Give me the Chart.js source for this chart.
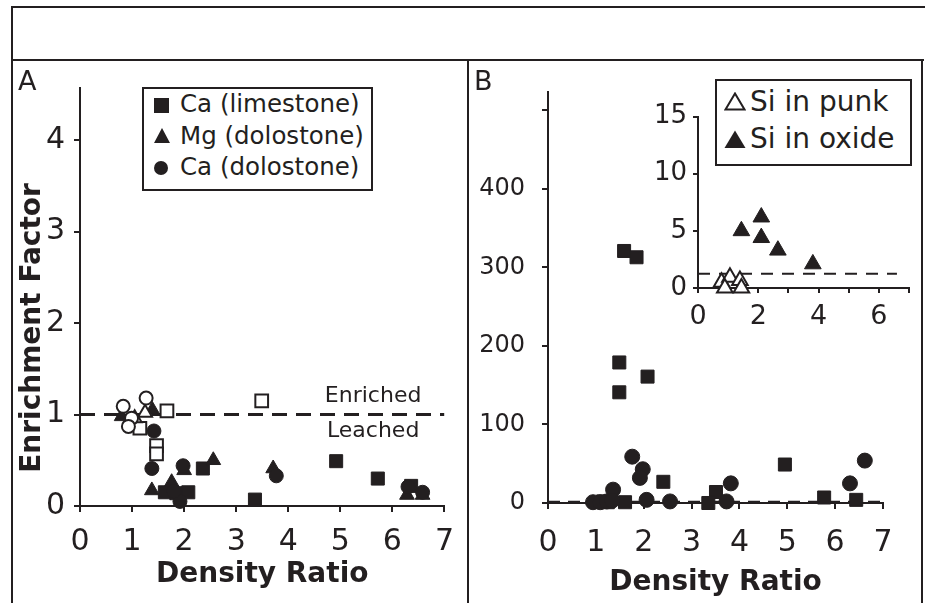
<!DOCTYPE html>
<html>
<head>
<meta charset="utf-8">
<script src="https://cdn.jsdelivr.net/npm/chart.js@4.4.1/dist/chart.umd.min.js"></script>
<style>
  body { margin: 0; background: #fff; }
  #page { position: relative; width: 925px; height: 603px; overflow: hidden; font-family: "DejaVu Sans", sans-serif; color: #231f20; }
  .rule { position: absolute; background: #231f20; }
  canvas { position: absolute; }
  .tag { position: absolute; font-size: 27px; line-height: 27px; }
  .ytitle { position: absolute; left: -169px; top: 311px; width: 400px; height: 34px; line-height: 34px; text-align: center; font-weight: bold; font-size: 28px; transform: rotate(-90deg); white-space: nowrap; }
  .legend { position: absolute; box-sizing: border-box; border: 2px solid #231f20; background: #fff; }
  .legend svg { position: absolute; }
  .legend .item { position: absolute; white-space: nowrap; }
  #legendA .item { font-size: 24.5px; line-height: 30px; }
  #legendB .item { font-size: 28px; line-height: 34px; }
</style>
</head>
<body>
<div id="page">
  <!-- frame -->
  <div class="rule" style="left:11px;top:6px;width:914px;height:2px;"></div>
  <div class="rule" style="left:11px;top:6px;width:2px;height:597px;"></div>
  <div class="rule" style="left:11px;top:59px;width:913px;height:2px;"></div>
  <div class="rule" style="left:467px;top:59px;width:2px;height:544px;"></div>
  <div class="rule" style="left:921px;top:59px;width:2px;height:544px;"></div>

  <canvas id="chartA" width="453" height="542" style="left:13px;top:61px;"></canvas>
  <canvas id="chartB" width="452" height="542" style="left:469px;top:61px;"></canvas>
  <canvas id="chartInset" width="290" height="250" style="left:630px;top:95px;"></canvas>

  <div class="tag" style="left:18px;top:67px;">A</div>
  <div class="tag" style="left:474px;top:67px;">B</div>
  <div class="ytitle">Enrichment Factor</div>

  <div class="legend" id="legendA" style="left:142px;top:87px;width:231px;height:104px;">
    <svg style="left:10px;top:9px;" width="15" height="15"><rect width="15" height="15" fill="#231f20"/></svg>
    <svg style="left:10px;top:39px;" width="16" height="15"><polygon points="0,15 8,0 16,15" fill="#231f20"/></svg>
    <svg style="left:10px;top:72px;" width="14" height="14"><circle cx="7" cy="7" r="7" fill="#231f20"/></svg>
    <div class="item" style="left:36px;top:0px;">Ca (limestone)</div>
    <div class="item" style="left:36px;top:32px;">Mg (dolostone)</div>
    <div class="item" style="left:36px;top:63px;">Ca (dolostone)</div>
  </div>

  <div class="legend" id="legendB" style="left:715px;top:79px;width:197px;height:87px;">
    <svg style="left:7px;top:11px;" width="22" height="19"><polygon points="1.5,17.5 11,1.5 20.5,17.5" fill="#fff" stroke="#231f20" stroke-width="2"/></svg>
    <svg style="left:7px;top:49px;" width="22" height="19"><polygon points="0.5,18 11,0.5 21.5,18" fill="#231f20"/></svg>
    <div class="item" style="left:33px;top:4px;">Si in punk</div>
    <div class="item" style="left:33px;top:41px;">Si in oxide</div>
  </div>
</div>

<script>
const ink = "#231f20";

// ---- panel A : enrichment factor vs density ratio ----
const caLimeX = [1.63, 1.85, 2.08, 2.36, 3.36, 4.92, 5.72, 6.36];
const caLimeY = [0.15, 0.14, 0.15, 0.41, 0.07, 0.49, 0.30, 0.22];
const mgDoloX = [0.80, 1.39, 1.38, 1.76, 2.00, 2.56, 3.71, 6.28, 6.58];
const mgDoloY = [0.98, 1.05, 0.17, 0.26, 0.39, 0.50, 0.41, 0.12, 0.12];
const caDoloX = [1.42, 1.38, 1.98, 1.92, 1.80, 3.77, 6.30, 6.58];
const caDoloY = [0.82, 0.41, 0.44, 0.05, 0.16, 0.33, 0.21, 0.15];
// open symbols (not in the legend)
const openSqX = [1.67, 1.15, 1.47, 1.47, 3.49];
const openSqY = [1.04, 0.85, 0.66, 0.57, 1.15];
const openTriX = [1.05, 1.25];
const openTriY = [0.96, 1.02];
const openCircX = [0.83, 1.27, 0.99, 0.93];
const openCircY = [1.09, 1.18, 0.96, 0.87];
const xTicksA = [0, 1, 2, 3, 4, 5, 6, 7];
const yTicksA = [0, 1, 2, 3, 4];
const enrichLevel = 1;
const zoneText = ["Enriched", "Leached"];

// ---- panel B ----
const bSqX = [1.59, 1.85, 1.49, 1.49, 2.08, 2.41, 4.95, 3.51, 3.35, 5.77, 6.44, 1.61, 1.15, 1.25];
const bSqY = [321, 313, 179, 141, 161, 27, 49, 14, 0, 7, 4, 1, 2, 1];
const bCircX = [1.76, 1.98, 1.92, 1.36, 2.06, 2.55, 3.82, 3.73, 6.62, 6.31, 0.94, 1.09, 1.23, 1.34];
const bCircY = [59, 43, 32, 17, 4, 2, 25, 2, 54, 25, 1, 1, 2, 3];
const xTicksB = [0, 1, 2, 3, 4, 5, 6, 7];
const yTicksB = [0, 100, 200, 300, 400, 500];
const yTickLabelsB = ["0", "100", "200", "300", "400", ""];

// ---- inset (Si) ----
const punkX = [0.78, 1.06, 1.39, 0.89, 1.44];
const punkY = [0.5, 0.95, 0.65, 0, 0];
const oxideX = [2.10, 1.44, 2.10, 2.65, 3.81];
const oxideY = [6.2, 5.0, 4.4, 3.3, 2.1];
const xTicksIn = [0, 1, 2, 3, 4, 5, 6, 7];
const xTickLabelsIn = ["0", "", "2", "", "4", "", "6", ""];
const yTicksIn = [0, 5, 10, 15];
const insetLevel = 1.25;

Chart.defaults.font.family = "'DejaVu Sans', sans-serif";
Chart.defaults.color = ink;

function markers(xs, ys, style, radius, open) {
  return {
    type: "scatter",
    data: xs.map((x, i) => ({ x: x, y: ys[i] })),
    pointStyle: style,
    pointRadius: radius,
    pointHoverRadius: radius,
    backgroundColor: open ? "#ffffff" : ink,
    borderColor: ink,
    borderWidth: open ? 2 : 1,
    clip: false,
  };
}

function refLine(level, from, to, width, dash) {
  return {
    type: "line",
    data: [{ x: from, y: level }, { x: to, y: level }],
    borderColor: ink,
    borderWidth: width,
    borderDash: dash,
    pointRadius: 0,
    fill: false,
  };
}

function tickGrid(len) {
  return { drawOnChartArea: false, drawTicks: true, tickLength: len, color: ink, lineWidth: 2 };
}
const axisBorder = { display: true, color: ink, width: 2 };

const zoneLabels = {
  id: "zoneLabels",
  afterDatasetsDraw(chart, args, opts) {
    if (!opts.text) return;
    const { ctx, scales } = chart;
    const x = scales.x.getPixelForValue(opts.x);
    const y = scales.y.getPixelForValue(opts.level);
    ctx.save();
    ctx.font = "22px 'DejaVu Sans'";
    ctx.fillStyle = ink;
    ctx.textAlign = "center";
    ctx.textBaseline = "middle";
    ctx.fillText(opts.text[0], x, y - 18);
    ctx.fillText(opts.text[1], x, y + 17);
    ctx.restore();
  },
};

const common = {
  responsive: false,
  animation: false,
  devicePixelRatio: 1,
};

new Chart(document.getElementById("chartA"), {
  type: "scatter",
  data: {
    datasets: [
      markers(openCircX, openCircY, "circle", 6.5, true),
      markers(openTriX, openTriY, "triangle", 8, true),
      markers(openSqX, openSqY, "rect", 9, true),
      markers(caDoloX, caDoloY, "circle", 7, false),
      markers(mgDoloX, mgDoloY, "triangle", 8.5, false),
      markers(caLimeX, caLimeY, "rect", 9.2, false),
      refLine(enrichLevel, 0, 7, 3, [15, 9]),
    ],
  },
  options: {
    ...common,
    layout: { padding: { top: 21, right: 21, left: 0, bottom: 0 } },
    plugins: {
      legend: { display: false },
      tooltip: { enabled: false },
      zoneLabels: { text: zoneText, x: 5.63, level: enrichLevel },
    },
    scales: {
      x: {
        type: "linear",
        min: 0,
        max: 7,
        afterBuildTicks: (s) => { s.ticks = xTicksA.map((v) => ({ value: v })); },
        afterFit: (s) => { s.height = 97; },
        grid: tickGrid(6),
        border: axisBorder,
        ticks: { font: { size: 30 }, padding: 12, maxRotation: 0, autoSkip: false },
        title: { display: true, text: "Density Ratio", font: { size: 28, weight: "bold" }, padding: { top: 0, bottom: 11 } },
      },
      y: {
        type: "linear",
        min: 0,
        max: 4.57,
        afterBuildTicks: (s) => { s.ticks = yTicksA.map((v) => ({ value: v })); },
        afterFit: (s) => { s.width = 67; },
        grid: tickGrid(6),
        border: axisBorder,
        ticks: { font: { size: 30 }, padding: 9 },
      },
    },
  },
  plugins: [zoneLabels],
});

new Chart(document.getElementById("chartB"), {
  type: "scatter",
  data: {
    datasets: [
      markers(bCircX, bCircY, "circle", 7.5, false),
      markers(bSqX, bSqY, "rect", 9.2, false),
      refLine(enrichLevel, 0, 7, 3, [12, 8]),
    ],
  },
  options: {
    ...common,
    layout: { padding: { top: 22, right: 38, left: 0, bottom: 0 } },
    plugins: { legend: { display: false }, tooltip: { enabled: false } },
    scales: {
      x: {
        type: "linear",
        min: 0,
        max: 7,
        afterBuildTicks: (s) => { s.ticks = xTicksB.map((v) => ({ value: v })); },
        afterFit: (s) => { s.height = 100; },
        grid: tickGrid(6),
        border: axisBorder,
        ticks: { font: { size: 30 }, padding: 16, maxRotation: 0, autoSkip: false },
        title: { display: true, text: "Density Ratio", font: { size: 28, weight: "bold" }, padding: { top: 0, bottom: 3 } },
      },
      y: {
        type: "linear",
        min: 0,
        max: 523,
        afterBuildTicks: (s) => { s.ticks = yTicksB.map((v) => ({ value: v })); },
        afterFit: (s) => { s.width = 79; },
        grid: tickGrid(6),
        border: axisBorder,
        ticks: { font: { size: 24 }, padding: 17, callback: (v, i) => yTickLabelsB[i] },
      },
    },
  },
});

new Chart(document.getElementById("chartInset"), {
  type: "scatter",
  data: {
    datasets: [
      markers(punkX, punkY, "triangle", 9, true),
      markers(oxideX, oxideY, "triangle", 9.6, false),
      refLine(insetLevel, 0, 6.6, 2, [12, 9]),
    ],
  },
  options: {
    ...common,
    layout: { padding: { top: 21, right: 10, left: 0, bottom: 0 } },
    plugins: { legend: { display: false }, tooltip: { enabled: false } },
    scales: {
      x: {
        type: "linear",
        min: 0,
        max: 7,
        afterBuildTicks: (s) => { s.ticks = xTicksIn.map((v) => ({ value: v })); },
        afterFit: (s) => { s.height = 57; },
        grid: tickGrid(5),
        border: axisBorder,
        ticks: { font: { size: 27 }, padding: 8, maxRotation: 0, autoSkip: false, callback: (v, i) => xTickLabelsIn[i] },
      },
      y: {
        type: "linear",
        min: 0,
        max: 15,
        afterBuildTicks: (s) => { s.ticks = yTicksIn.map((v) => ({ value: v })); },
        afterFit: (s) => { s.width = 68; },
        grid: tickGrid(5),
        border: axisBorder,
        ticks: { font: { size: 26 }, padding: 6 },
      },
    },
  },
});
</script>
</body>
</html>
